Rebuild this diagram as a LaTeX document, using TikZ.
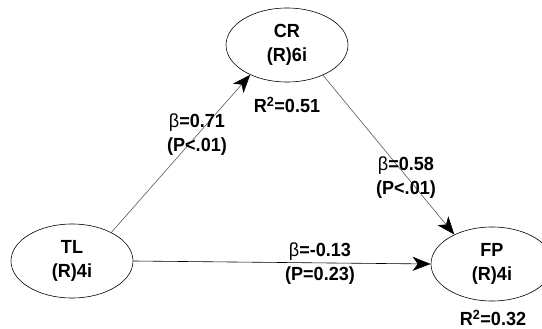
\documentclass[tikz,border=0pt]{standalone}
\usepackage{fontspec}
\setmainfont{Liberation Sans}[FakeStretch=0.95]
\usetikzlibrary{shapes.geometric,arrows.meta}
\begin{document}
\begin{tikzpicture}[x=1pt,y=-1pt,
  latent/.style={ellipse,draw,line width=0.6pt,minimum width=122pt,minimum height=74pt,inner sep=0pt,align=center,font=\fontsize{19}{24}\selectfont\bfseries},
  lbl/.style={align=center,inner sep=0pt,font=\fontsize{19}{24}\selectfont\bfseries},
  path/.style={line width=0.6pt,-{Stealth[length=18pt,width=14pt,inset=5pt,color=black]}}]
\useasboundingbox (0,0) rectangle (542,329);
\clip (0,0) rectangle (542,329);
\node[latent] (CR) at (287,45) {CR\\(R)6i};
\node[latent] (TL) at (72,261) {TL\\(R)4i};
\node[latent] (FP) at (492,264) {FP\\(R)4i};
\draw[path,black!65] (TL.36) -- (CR.219);
\draw[path,black!65] (CR.320) -- (FP.142);
\draw[path] (TL.east) -- (FP.west);
\node[lbl] (l1) at (197,135) {{\mdseries β}=0.71\\(P<.01)};
\node[lbl] (r1) at (287,105) {R\textsuperscript{2}=0.51};
\node[lbl] (l2) at (406,178) {{\mdseries β}=0.58\\(P<.01)};
\node[lbl] (l3) at (320,264) {{\mdseries β}=-0.13\\(P=0.23)};
\node[lbl] (r2) at (493,318) {R\textsuperscript{2}=0.32};
\end{tikzpicture}
\end{document}
